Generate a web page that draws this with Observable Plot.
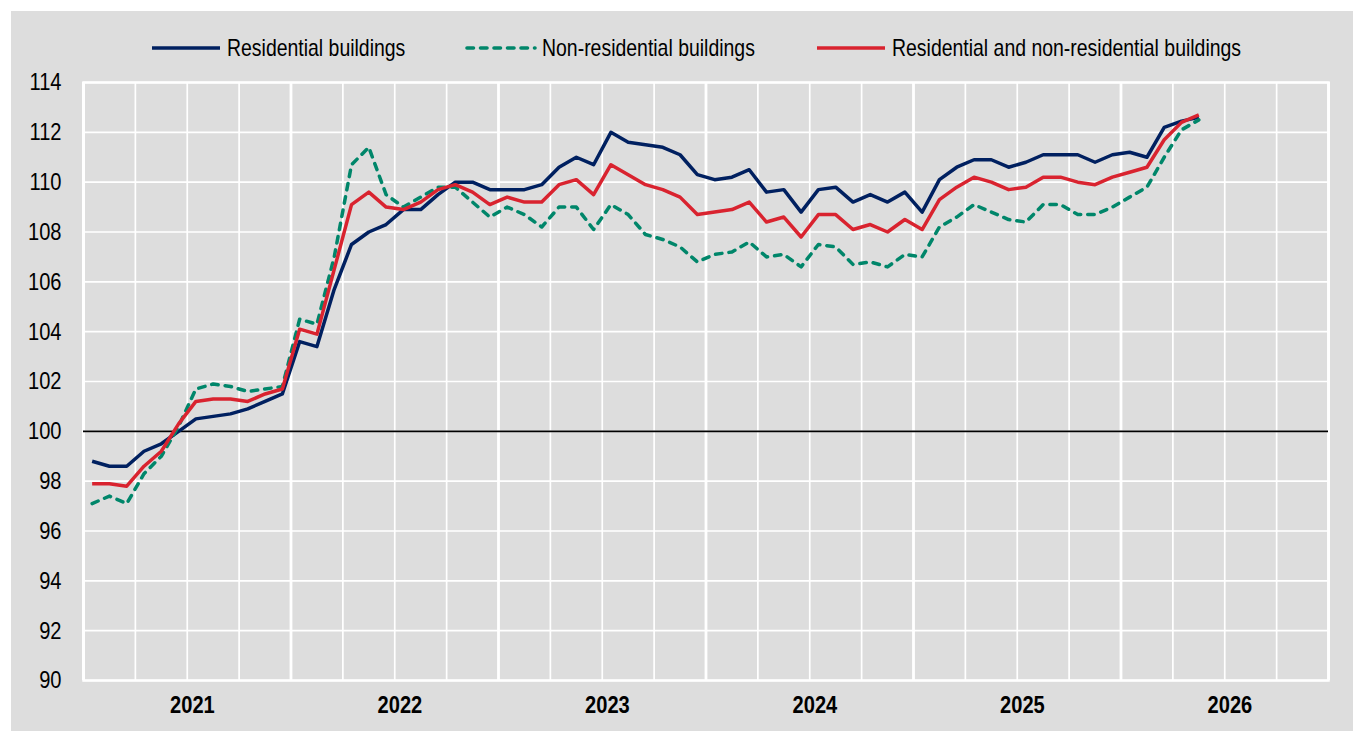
<!DOCTYPE html>
<html><head><meta charset="utf-8">
<script src="https://cdn.jsdelivr.net/npm/d3@7"></script>
<script src="https://cdn.jsdelivr.net/npm/@observablehq/plot@0.6"></script>
<style>
body{margin:0;background:#fff;}
#panel{position:absolute;left:11px;top:11px;width:1342px;height:720px;background:#dddddd;font-family:"Liberation Sans Narrow","Arial Narrow","Liberation Sans",Arial,sans-serif;}
#legend{position:absolute;left:0;top:0;width:1342px;height:74px;font-size:24px;color:#000;white-space:nowrap;}
.sw{position:absolute;top:32px;}
.lt{position:absolute;top:23px;line-height:28px;transform:scaleX(0.81);transform-origin:0 50%;}
#chart{position:absolute;left:0;top:59px;}
</style></head><body>
<div id="panel"><div id="legend"></div><div id="chart"></div></div>
<script>
const years = [2021, 2022, 2023, 2024, 2025, 2026];
const yTicks = [90, 92, 94, 96, 98, 100, 102, 104, 106, 108, 110, 112, 114];
const seriesNames = ["Residential buildings", "Non-residential buildings", "Residential and non-residential buildings"];
const seriesColors = ["#002060", "#00866a", "#d9232f"];
const seriesDash = [null, "6.5,7", null];

// monthly values, January 2021 onwards
const residential = [
  98.8, 98.6, 98.6, 99.2, 99.5, 100.0, 100.5, 100.6, 100.7, 100.9, 101.2, 101.5,
  103.6, 103.4, 105.7, 107.5, 108.0, 108.3, 108.9, 108.9, 109.5, 110.0, 110.0, 109.7,
  109.7, 109.7, 109.9, 110.6, 111.0, 110.7, 112.0, 111.6, 111.5, 111.4, 111.1, 110.3,
  110.1, 110.2, 110.5, 109.6, 109.7, 108.8, 109.7, 109.8, 109.2, 109.5, 109.2, 109.6,
  108.8, 110.1, 110.6, 110.9, 110.9, 110.6, 110.8, 111.1, 111.1, 111.1, 110.8, 111.1,
  111.2, 111.0, 112.2, 112.45, 112.6
];
const nonResidential = [
  97.1, 97.4, 97.1, 98.3, 99.0, 100.2, 101.7, 101.9, 101.8, 101.6, 101.7, 101.8,
  104.5, 104.3, 107.0, 110.7, 111.4, 109.5, 109.0, 109.4, 109.8, 109.8, 109.2, 108.6,
  109.0, 108.7, 108.2, 109.0, 109.0, 108.1, 109.1, 108.7, 107.9, 107.7, 107.4, 106.8,
  107.1, 107.2, 107.6, 107.0, 107.1, 106.6, 107.5, 107.4, 106.7, 106.8, 106.6, 107.1,
  107.0, 108.2, 108.6, 109.1, 108.8, 108.5, 108.4, 109.1, 109.1, 108.7, 108.7, 109.0,
  109.4, 109.8, 111.0, 112.1, 112.5
];
const combined = [
  97.9, 97.9, 97.8, 98.6, 99.2, 100.3, 101.2, 101.3, 101.3, 101.2, 101.5, 101.7,
  104.1, 103.9, 106.5, 109.1, 109.6, 109.0, 108.9, 109.2, 109.7, 109.9, 109.6, 109.1,
  109.4, 109.2, 109.2, 109.9, 110.1, 109.5, 110.7, 110.3, 109.9, 109.7, 109.4, 108.7,
  108.8, 108.9, 109.2, 108.4, 108.6, 107.8, 108.7, 108.7, 108.1, 108.3, 108.0, 108.5,
  108.1, 109.3, 109.8, 110.2, 110.0, 109.7, 109.8, 110.2, 110.2, 110.0, 109.9, 110.2,
  110.4, 110.6, 111.7, 112.4, 112.7
];
const seriesValues = [residential, nonResidential, combined];

// legend (swatch left edges inside the panel)
const legendLeft = [139, 454, 804];
const legend = document.getElementById("legend");
seriesNames.forEach((name, k) => {
  const dash = seriesDash[k] ? `stroke-dasharray="${seriesDash[k]}"` : "";
  const cap = seriesDash[k] ? "round" : "butt";
  const sw = document.createElement("div");
  sw.className = "sw";
  sw.style.left = legendLeft[k] + "px";
  sw.innerHTML = `<svg width="72" height="10" style="display:block"><line x1="2" y1="5" x2="70" y2="5" stroke="${seriesColors[k]}" stroke-width="3.6" stroke-linecap="${cap}" ${dash}/></svg>`;
  const lt = document.createElement("div");
  lt.className = "lt";
  lt.style.left = (legendLeft[k] + 77) + "px";
  lt.textContent = name;
  legend.appendChild(sw);
  legend.appendChild(lt);
});

const nMonths = years.length * 12;
const quarterLines = d3.range(0, nMonths + 1, 3).map(m => ({x: m - 0.5, year: m % 12 === 0}));
const yearCenters = years.map((y, k) => 12 * k + 5.8);

const marks = [
  Plot.ruleY(yTicks, {stroke: "white", strokeWidth: 1.7}),
  Plot.ruleX(quarterLines, {x: "x", stroke: "white", strokeWidth: d => d.year ? 2.8 : 1.7}),
  Plot.frame({stroke: "white", strokeWidth: 2.5}),
  Plot.ruleY([100], {stroke: "black", strokeWidth: 1.6}),
  ...seriesValues.map((vals, k) => Plot.line(vals.map((v, i) => ({i, v})), {
    x: "i", y: "v", stroke: seriesColors[k], strokeWidth: 3.5,
    strokeDasharray: seriesDash[k] || undefined, strokeLinecap: seriesDash[k] ? "round" : "butt",
    strokeLinejoin: "round"
  })),
  Plot.axisY({ticks: yTicks, tickSize: 0, tickPadding: 22, fontSize: 24.5, label: null}),
  Plot.axisX({ticks: yearCenters, tickSize: 0, tickPadding: 15, fontSize: 24.5, fontWeight: "bold", label: null,
    tickFormat: d => String(years[Math.round((d - 5.8) / 12)])})
];

const chart = Plot.plot({
  width: 1342, height: 661,
  marginLeft: 72, marginRight: 25, marginTop: 12, marginBottom: 51,
  x: {domain: [-0.5, nMonths - 0.5]},
  y: {domain: [90, 114]},
  style: {background: "transparent", fontFamily: "'Liberation Sans Narrow','Arial Narrow','Liberation Sans',Arial,sans-serif", fontSize: "24px", color: "#000", overflow: "visible"},
  marks
});
// condense the axis labels horizontally to mimic the narrow typeface
d3.select(chart).selectAll("g[aria-label$='tick label'] text").each(function() {
  const t = this.getAttribute("transform") || "";
  this.setAttribute("transform", t + " scale(0.82,1)");
});
document.getElementById("chart").appendChild(chart);
</script>
</body></html>
